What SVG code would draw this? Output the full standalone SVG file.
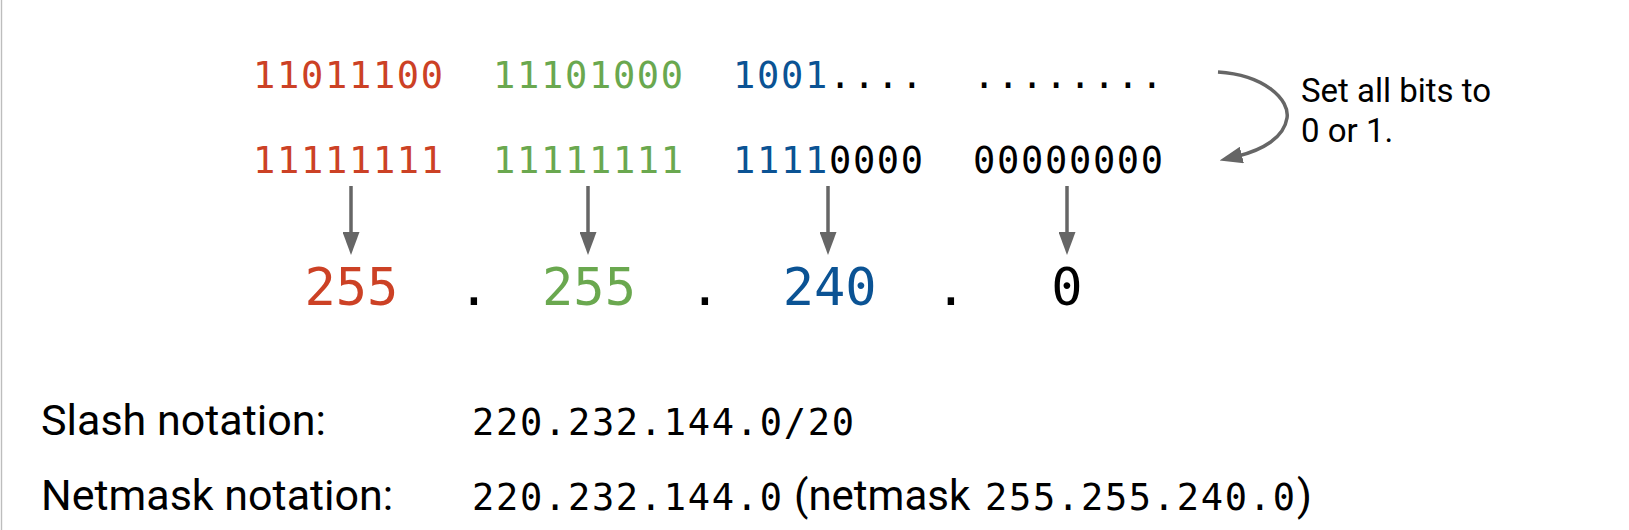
<svg xmlns="http://www.w3.org/2000/svg" width="1629" height="530" viewBox="0 0 1629 530">
<style>
.mono{font-family:"DejaVu Sans Mono","Liberation Mono",monospace;}
.bits{font-size:37px;letter-spacing:1.7px;}
.big{font-size:52px;text-anchor:middle;}
.sans{font-family:Roboto,"Liberation Sans",sans-serif;}
.red{fill:#cc4125;}
.green{fill:#6aa84f;}
.blue{fill:#0b5394;}
.blk{fill:#000000;}
.conn{stroke:#666666;stroke-width:3.5;fill:none;}
</style>
<defs>
<marker id="ah" viewBox="0 0 23 17" refX="4" refY="8.5" markerWidth="23" markerHeight="17" markerUnits="userSpaceOnUse" orient="auto">
<path d="M0,0 L23,8.5 L0,17 z" fill="#666666"/>
</marker>
</defs>
<rect x="0" y="0" width="1629" height="530" fill="#ffffff"/>
<line x1="1.5" y1="0" x2="1.5" y2="530" stroke="#bdbdbd" stroke-width="1.4"/>

<g id="address-bits">
<text class="mono bits red" x="253" y="88">11011100</text>
<text class="mono bits green" x="493" y="88">11101000</text>
<text class="mono bits" x="733" y="88"><tspan class="blue">1001</tspan><tspan class="blk">....</tspan></text>
<text class="mono bits blk" x="973" y="88">........</text>
</g>
<g id="mask-bits">
<text class="mono bits red" x="253" y="173">11111111</text>
<text class="mono bits green" x="493" y="173">11111111</text>
<text class="mono bits" x="733" y="173"><tspan class="blue">1111</tspan><tspan class="blk">0000</tspan></text>
<text class="mono bits blk" x="973" y="173">00000000</text>
</g>
<g id="note">
<text class="sans" font-size="33" x="1301" y="102" fill="#000">Set all bits to</text>
<text class="sans" font-size="33" x="1301" y="142" fill="#000">0 or 1.</text>
</g>
<g id="octet1"><text class="mono big red" x="351.4" y="305">255</text></g>
<g id="dot1"><text class="mono big blk" x="474" y="305">.</text></g>
<g id="octet2"><text class="mono big green" x="589" y="305">255</text></g>
<g id="dot2"><text class="mono big blk" x="705" y="305">.</text></g>
<g id="octet3"><text class="mono big blue" x="829.6" y="305">240</text></g>
<g id="dot3"><text class="mono big blk" x="951" y="305">.</text></g>
<g id="octet4"><text class="mono big blk" x="1067" y="305">0</text></g>

<g id="connectors">
<line class="conn" x1="351" y1="186" x2="351" y2="236" marker-end="url(#ah)"/>
<line class="conn" x1="588" y1="186" x2="588" y2="236" marker-end="url(#ah)"/>
<line class="conn" x1="828" y1="186" x2="828" y2="236" marker-end="url(#ah)"/>
<line class="conn" x1="1067" y1="186" x2="1067" y2="236" marker-end="url(#ah)"/>
<path class="conn" stroke-width="3" d="M1218,72 C1265,75 1290,100 1287,118 C1284,138 1262,150 1238,156" marker-end="url(#ah)"/>
</g>

<g id="slash-line">
<text class="sans" font-size="43" x="41" y="435" fill="#000">Slash notation:</text>
<text class="mono bits" x="472" y="435" fill="#000">220.232.144.0/20</text>
</g>
<g id="netmask-line">
<text class="sans" font-size="43" x="41" y="510" fill="#000">Netmask notation:</text>
<text class="mono bits" x="472" y="510" fill="#000">220.232.144.0</text>
<text class="sans" font-size="42" x="794" y="510" fill="#000">(netmask</text>
<text class="mono bits" x="985" y="510" fill="#000">255.255.240.0</text>
<text class="sans" font-size="43" x="1297" y="510" fill="#000">)</text>
</g>
</svg>
